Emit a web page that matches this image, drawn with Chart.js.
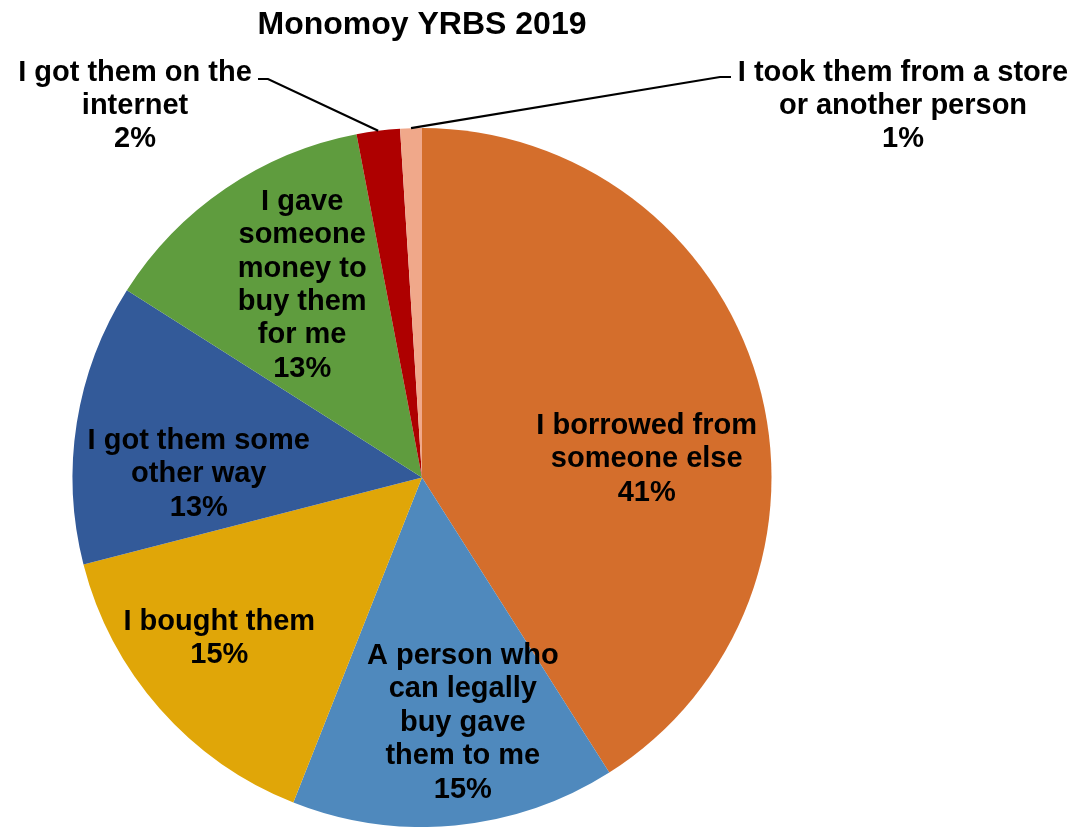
<!DOCTYPE html>
<html>
<head>
<meta charset="utf-8">
<title>Monomoy YRBS 2019</title>
<script src="https://cdn.jsdelivr.net/npm/chart.js@4.4.1/dist/chart.umd.min.js"></script>
<style>
  html, body { margin: 0; padding: 0; background: #fff; }
  #wrap { width: 1074px; height: 827px; position: relative; }
</style>
</head>
<body>
<div id="wrap"><canvas id="pie"></canvas></div>
<script>
// Slices, clockwise from 12 o'clock
const categories = [
  'I borrowed from someone else',
  'A person who can legally buy gave them to me',
  'I bought them',
  'I got them some other way',
  'I gave someone money to buy them for me',
  'I got them on the internet',
  'I took them from a store or another person',
];
const percentages = [41, 15, 15, 13, 13, 2, 1];

// Label text as wrapped in the picture
const labelLines = [
  ['I borrowed from', 'someone else'],
  ['A person who', 'can legally', 'buy gave', 'them to me'],
  ['I bought them'],
  ['I got them some', 'other way'],
  ['I gave', 'someone', 'money to', 'buy them', 'for me'],
  ['I got them on the', 'internet'],
  ['I took them from a store', 'or another person'],
];

const COLOURS = ['#D46E2C', '#4F89BD', '#E0A608', '#335A99', '#5F9C3E', '#AE0000', '#F0A88A'];

const FONT = '"Liberation Sans", Arial, Helvetica, sans-serif';
const LINE_H = 33.4;
const TEXT_NUDGE = 4; // canvas 'middle' sits a bit high vs the picture

// Inside labels: angle (deg clockwise from top) and distance as fraction of radius.
// Outside labels: text block centre plus leader elbow/end, in canvas px.
const labelPlace = [
  { angle: 84.4,  dist: 0.646 },
  { angle: 170.4, dist: 0.70 },
  { angle: 232.2, dist: 0.734 },
  { angle: 271.8, dist: 0.639 },
  { angle: 328.6, dist: 0.658 },
  { text: [135, 102], elbow: [268, 79], end: [258, 79] },
  { text: [903, 102], elbow: [720, 77], end: [731, 77] },
];

const pieLabels = {
  id: 'pieLabels',
  afterDatasetsDraw(chart) {
    const ctx = chart.ctx;
    const arcs = chart.getDatasetMeta(0).data;
    ctx.save();
    ctx.font = `bold 29px ${FONT}`;
    ctx.fillStyle = '#000';
    ctx.textAlign = 'center';
    ctx.textBaseline = 'middle';
    arcs.forEach((arc, i) => {
      const { x, y, outerRadius, startAngle, endAngle } = arc.getProps(['x', 'y', 'outerRadius', 'startAngle', 'endAngle'], true);
      const place = labelPlace[i];
      const lines = labelLines[i].concat(`${percentages[i]}%`);
      let cx, cy;
      if (place.text) {
        // leader line from slice edge
        const mid = (startAngle + endAngle) / 2;
        ctx.beginPath();
        ctx.moveTo(x + outerRadius * Math.cos(mid), y + outerRadius * Math.sin(mid));
        ctx.lineTo(place.elbow[0], place.elbow[1]);
        ctx.lineTo(place.end[0], place.end[1]);
        ctx.lineWidth = 2.2;
        ctx.strokeStyle = '#000';
        ctx.stroke();
        [cx, cy] = place.text;
      } else {
        const a = place.angle * Math.PI / 180;
        cx = x + place.dist * outerRadius * Math.sin(a);
        cy = y - place.dist * outerRadius * Math.cos(a);
      }
      const top = cy + TEXT_NUDGE - (lines.length - 1) * LINE_H / 2;
      lines.forEach((ln, j) => ctx.fillText(ln, cx, top + j * LINE_H));
    });
    ctx.restore();
  },
};

new Chart(document.getElementById('pie'), {
  type: 'pie',
  data: {
    labels: categories,
    datasets: [{
      data: percentages,
      backgroundColor: COLOURS,
      borderWidth: 0,
    }],
  },
  options: {
    responsive: true,
    maintainAspectRatio: false,
    animation: false,
    layout: { padding: { left: 72, right: 302, top: 0, bottom: 0 } },
    plugins: {
      legend: { display: false },
      tooltip: { enabled: false },
      title: {
        display: true,
        text: 'Monomoy YRBS 2019',
        color: '#000',
        font: { family: FONT, size: 32, weight: 'bold', lineHeight: 1.2 },
        padding: { top: 6, bottom: 83.6 },
      },
    },
  },
  plugins: [pieLabels],
});
</script>
</body>
</html>
